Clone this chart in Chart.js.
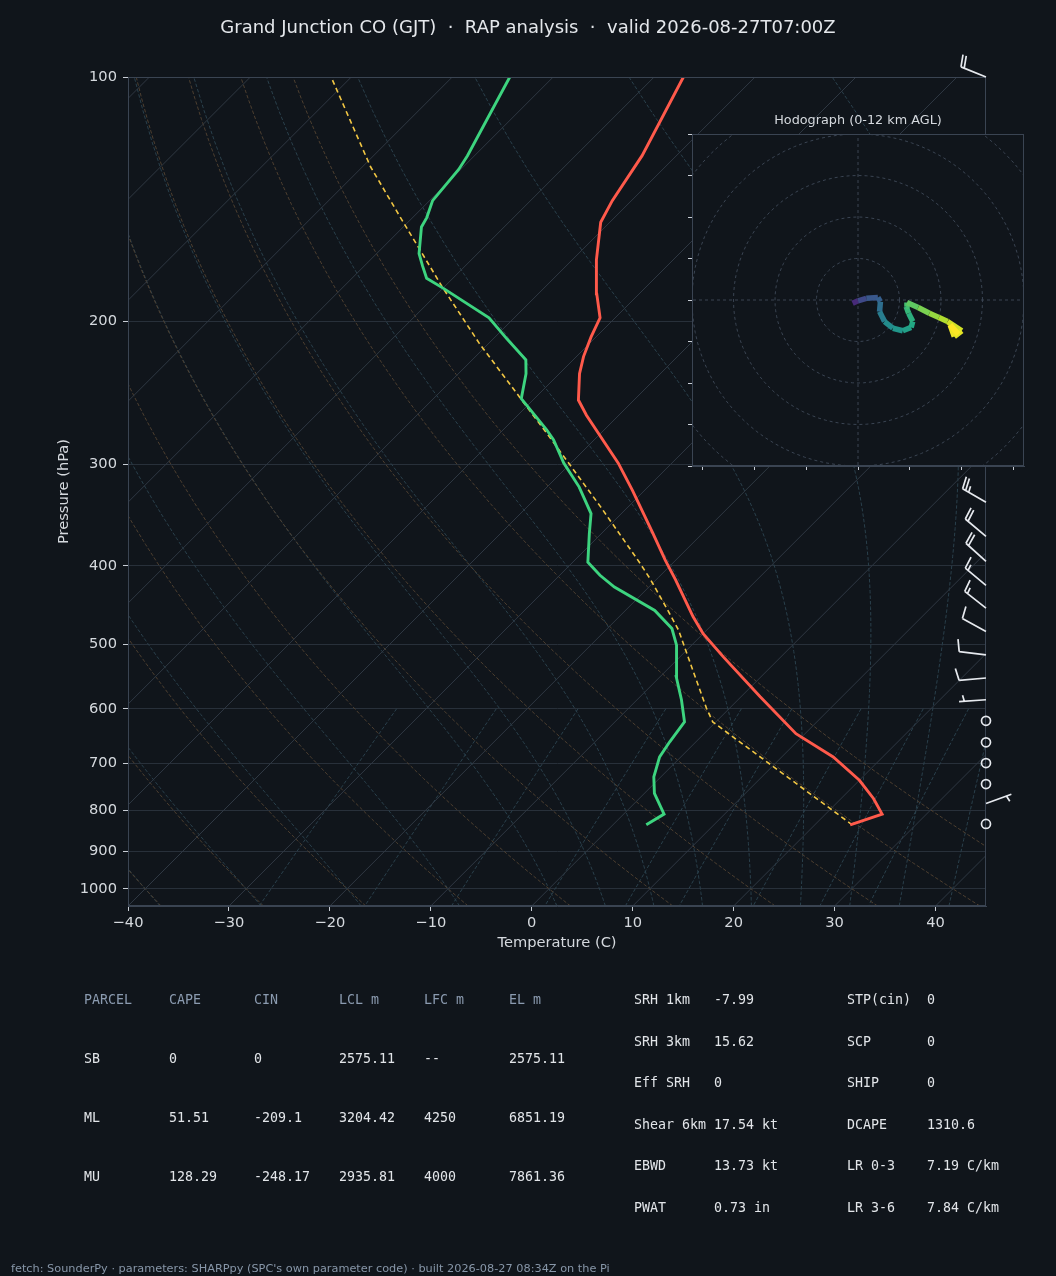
<!DOCTYPE html>
<html>
<head>
<meta charset="utf-8">
<title>Skew-T GJT</title>
<script src="https://cdn.jsdelivr.net/npm/chart.js@4.4.1/dist/chart.umd.min.js"></script>
<style>
  html, body { margin: 0; padding: 0; background: #10151b; }
  #page { position: relative; width: 1056px; height: 1276px; overflow: hidden; font-family: "DejaVu Sans", sans-serif; }
  canvas { position: absolute; }
  .txt { position: absolute; white-space: pre; line-height: 16px; }
  .mono { font-family: "DejaVu Sans Mono", monospace; font-size: 13.3px; }
</style>
</head>
<body>
<div id="page">
  <canvas id="skewt" width="1056" height="1276" style="left:0;top:0"></canvas>
  <canvas id="hodo" width="352" height="352" style="left:682px;top:124px"></canvas>
  <div class="txt" style="left:0;width:1056px;top:17px;line-height:20px;text-align:center;font-size:18px;color:#e4e7eb">Grand Junction CO (GJT)  ·  RAP analysis  ·  valid 2026-08-27T07:00Z</div>
  <div class="txt" style="left:692px;width:332px;top:112px;text-align:center;font-size:12.8px;color:#d5d9de">Hodograph (0-12 km AGL)</div>
  <div id="tables"></div>
  <div class="txt" style="left:11px;top:1261px;font-size:11.3px;color:#8796a8">fetch: SounderPy · parameters: SHARPpy (SPC's own parameter code) · built 2026-08-27 08:34Z on the Pi</div>
</div>
<script>
// sounding: pressure (hPa) and temperature (C)
const tempP = [834, 809, 774, 735, 688, 644, 580, 518, 485, 462, 416, 394, 365, 323, 299, 261, 250, 232, 221, 209, 198, 185, 168, 151, 142, 125, 100];
const tempT = [23.5, 25.6, 23.2, 20.0, 15.1, 9.1, 1.9, -5.7, -10.0, -12.7, -18.1, -21.0, -24.9, -31.2, -35.3, -43.2, -45.5, -48.0, -49.3, -50.5, -51.5, -54.2, -57.6, -60.9, -61.9, -63.4, -67.1];

const dewP = [834, 809, 763, 728, 688, 659, 623, 585, 548, 501, 478, 454, 425, 411, 396, 365, 345, 320, 299, 280, 272, 249, 232, 223, 210, 198, 182, 177, 171, 165, 153, 149, 142, 130, 125, 100];
const dewT = [3.3, 4.0, 1.0, -0.7, -2.1, -2.6, -3.1, -5.6, -8.4, -11.5, -13.6, -17.1, -23.4, -26.0, -28.5, -31.2, -33.0, -36.8, -40.7, -44.0, -45.7, -51.3, -53.3, -54.7, -58.7, -62.5, -70.0, -72.6, -74.2, -75.8, -78.2, -78.6, -79.7, -80.2, -80.7, -84.3];

const parcelP = [834, 623, 599, 538, 480, 454, 415, 396, 338, 279, 248, 213, 182, 149, 129, 100];
const parcelT = [23.7, -0.3, -2.3, -7.4, -12.8, -15.8, -20.7, -23.4, -32.8, -44.4, -51.6, -60.9, -70.0, -81.2, -89.2, -102.0];

// wind barbs: pressure (hPa), direction (deg), speed (kt)
const windP = [832, 785, 743, 700, 660, 621, 585, 550, 515, 482, 451, 423, 395, 368, 334, 100];
const windDir = [0, 70, 0, 0, 0, 0, 266, 265, 277, 299, 308, 310, 312, 310, 300, 292];
const windSpd = [0, 5, 0, 0, 0, 0, 5, 10, 10, 10, 15, 15, 20, 20, 25, 20];

// hodograph (kt) with its position along the viridis colour ramp
const hodoU = [-1.3, 0.0, 2.0, 4.8, 5.4, 5.2, 6.4, 8.4, 10.8, 12.8, 13.2, 12.2, 11.6, 11.8, 14.5, 17.2, 19.5, 21.6, 25.0, 23.2, 22.2, 24.2];
const hodoV = [-0.8, -0.2, 0.4, 0.6, -0.4, -2.8, -5.2, -6.8, -7.4, -6.6, -5.2, -3.2, -1.6, -0.6, -1.8, -3.2, -4.2, -5.2, -7.4, -8.8, -6.0, -8.2];
const hodoShade = [0.0, 0.12, 0.22, 0.27, 0.3, 0.36, 0.42, 0.48, 0.52, 0.56, 0.6, 0.63, 0.66, 0.7, 0.75, 0.8, 0.84, 0.88, 0.93, 0.96, 0.98, 1.0];

// axis ticks
const tempTicks = [-40, -30, -20, -10, 0, 10, 20, 30, 40];
const pressTicks = [100, 200, 300, 400, 500, 600, 700, 800, 900, 1000];
const hodoTicksX = [-37.5, -25, -12.5, 0, 12.5, 25, 37.5];
const hodoTicksY = [-40, -30, -20, -10, 0, 10, 20, 30, 40];
const hodoRings = [10, 20, 30, 40, 50, 60];

// background line families
const dryTheta = [-40, -30, -20, -10, 0, 10, 20, 30, 40, 50];
const moistT0 = [-40, -30, -20, -10, 0, 5, 10, 15, 20, 25, 30, 35, 40, 45];
const mixRatio = [0.0004, 0.001, 0.002, 0.004, 0.007, 0.01, 0.016, 0.024, 0.032];

// table
const parcelHead = ['PARCEL', 'CAPE', 'CIN', 'LCL m', 'LFC m', 'EL m'];
const parcelRows = [
  ['SB', '0', '0', '2575.11', '--', '2575.11'],
  ['ML', '51.51', '-209.1', '3204.42', '4250', '6851.19'],
  ['MU', '128.29', '-248.17', '2935.81', '4000', '7861.36']
];
const paramLeft = [['SRH 1km', '-7.99'], ['SRH 3km', '15.62'], ['Eff SRH', '0'], ['Shear 6km', '17.54 kt'], ['EBWD', '13.73 kt'], ['PWAT', '0.73 in']];
const paramRight = [['STP(cin)', '0'], ['SCP', '0'], ['SHIP', '0'], ['DCAPE', '1310.6'], ['LR 0-3', '7.19 C/km'], ['LR 3-6', '7.84 C/km']];

const BG = '#10151b';
const TXT = '#d5d9de';
const EDGE = '#3a4452';

// skew: isotherms lean 45 deg on screen
const K = 80.42;
const skewX = (t, p) => t + K * Math.log10(1050 / p);
const toXY = (P, T) => P.map((p, i) => ({ x: skewX(T[i], p), y: p }));
const logLevels = n => Array.from({ length: n }, (_, i) => 1050 * Math.pow(100 / 1050, i / (n - 1)));

// reference lines
function dryLine(th) {
  return logLevels(40).map(p => ({ x: skewX((th + 273.15) * Math.pow(p / 1000, 0.2857) - 273.15, p), y: p }));
}
function moistLine(t0) {
  const Rd = 287.04749, Cp = 1004.6662, Lv = 2.50084e6, eps = 0.622;
  const f = (p, T) => {
    const es = 6.112 * Math.exp(17.67 * (T - 273.15) / (T - 29.65));
    const rs = eps * es / (p - es);
    return (Rd * T + Lv * rs) / (Cp + Lv * Lv * rs * eps / (Rd * T * T)) / p;
  };
  const run = (pEnd, dp) => {
    const out = [];
    let p = 1000, T = t0 + 273.15;
    while ((dp < 0 && p > pEnd) || (dp > 0 && p < pEnd)) {
      const k1 = f(p, T), k2 = f(p + dp / 2, T + dp / 2 * k1), k3 = f(p + dp / 2, T + dp / 2 * k2), k4 = f(p + dp, T + dp * k3);
      T += dp / 6 * (k1 + 2 * k2 + 2 * k3 + k4);
      p += dp;
      out.push({ x: skewX(T - 273.15, p), y: p });
    }
    return out;
  };
  return run(1050, 10).reverse().concat([{ x: skewX(t0, 1000), y: 1000 }], run(100, -10));
}
function mixLine(w) {
  const pts = [];
  for (let i = 0; i <= 9; i++) {
    const p = 600 + i * 50;
    const e = p * w / (0.622 + w);
    const l = Math.log(e / 6.112);
    pts.push({ x: skewX(243.5 * l / (17.67 - l), p), y: p });
  }
  return pts;
}

const bgLine = (data, color, dash) => ({ data, borderColor: color, borderWidth: 1, borderDash: dash, showLine: true, pointRadius: 0, order: 2 });
const datasets = [
  { data: toXY(tempP, tempT), borderColor: '#ff5a4b', borderWidth: 2.9, showLine: true, pointRadius: 0, order: 0 },
  { data: toXY(dewP, dewT), borderColor: '#3dd47f', borderWidth: 2.9, showLine: true, pointRadius: 0, order: 0 },
  { data: toXY(parcelP, parcelT), borderColor: '#f2c744', borderWidth: 1.6, borderDash: [5, 3.5], showLine: true, pointRadius: 0, order: 0 }
];
for (let t = -120; t <= 40; t += 10) datasets.push(bgLine([{ x: skewX(t, 1050), y: 1050 }, { x: skewX(t, 100), y: 100 }], '#2f3843', []));
dryTheta.forEach(th => datasets.push(bgLine(dryLine(th), '#4d3f30', [3.5, 2])));
moistT0.forEach(t0 => datasets.push(bgLine(moistLine(t0), '#2a404c', [3.5, 2])));
mixRatio.forEach(w => datasets.push(bgLine(mixLine(w), '#2a404c', [3.5, 2])));

function drawBarb(ctx, x, y, spd, dir) {
  ctx.save();
  ctx.strokeStyle = '#e6e9ee';
  ctx.lineWidth = 1.7;
  ctx.lineJoin = 'round';
  if (spd < 2.5) {
    ctx.beginPath();
    ctx.arc(x, y, 4.5, 0, 2 * Math.PI);
    ctx.stroke();
    ctx.restore();
    return;
  }
  const L = 27, sp = 0.13 * L, h = 0.45 * L, w = 0.2 * L;
  const r = dir * Math.PI / 180;
  const dx = Math.sin(r), dy = -Math.cos(r);
  const nx = -dy, ny = dx;
  const at = o => [x + dx * o, y + dy * o];
  ctx.beginPath();
  ctx.moveTo(x, y);
  ctx.lineTo(...at(L));
  let s = Math.round(spd / 5) * 5;
  const flags = Math.floor(s / 50); s -= flags * 50;
  const full = Math.floor(s / 10); s -= full * 10;
  let off = L;
  for (let i = 0; i < flags; i++) {
    const [ax, ay] = at(off), [bx, by] = at(off - w);
    const [cx, cy] = at(off - w / 2);
    ctx.moveTo(ax, ay); ctx.lineTo(cx + nx * h, cy + ny * h); ctx.lineTo(bx, by);
    off -= w + sp;
  }
  for (let i = 0; i < full; i++) {
    const [ax, ay] = at(off), [bx, by] = at(off + w / 2);
    ctx.moveTo(ax, ay); ctx.lineTo(bx + nx * h, by + ny * h);
    off -= sp;
  }
  if (s >= 5) {
    if (off === L) off -= 1.5 * sp;
    const [ax, ay] = at(off), [bx, by] = at(off + w / 4);
    ctx.moveTo(ax, ay); ctx.lineTo(bx + nx * h / 2, by + ny * h / 2);
  }
  ctx.stroke();
  ctx.restore();
}

const frame = {
  id: 'frame',
  afterDatasetsDraw(chart) {
    const a = chart.chartArea, ctx = chart.ctx;
    ctx.save();
    ctx.strokeStyle = EDGE;
    ctx.lineWidth = 1;
    ctx.strokeRect(a.left + 0.5, a.top + 0.5, a.right - a.left - 1, a.bottom - a.top - 1);
    ctx.restore();
  }
};
const barbs = {
  id: 'barbs',
  afterDraw(chart) {
    const ys = chart.scales.y, x = chart.chartArea.right;
    windP.forEach((p, i) => drawBarb(chart.ctx, x, ys.getPixelForValue(p), windSpd[i], windDir[i]));
  }
};

const minus = v => (v < 0 ? '\u2212' + Math.abs(v) : String(v));

new Chart(document.getElementById('skewt'), {
  type: 'scatter',
  data: { datasets },
  options: {
    responsive: false,
    animation: false,
    events: [],
    layout: { padding: { left: 51, top: 77, right: 70, bottom: 320 } },
    plugins: { legend: { display: false }, tooltip: { enabled: false } },
    elements: { point: { radius: 0 }, line: { tension: 0 } },
    scales: {
      x: {
        type: 'linear', min: -40, max: 45,
        afterBuildTicks: s => { s.ticks = tempTicks.map(v => ({ value: v })); },
        afterFit: s => { s.height = 50; },
        grid: { drawOnChartArea: false, tickLength: 5, tickColor: '#c9ced6' },
        border: { color: EDGE },
        ticks: { color: TXT, font: { family: 'DejaVu Sans', size: 14.67 }, padding: 3, maxRotation: 0, callback: minus },
        title: { display: true, text: 'Temperature (C)', color: TXT, font: { family: 'DejaVu Sans', size: 14.67 }, padding: { top: 2, bottom: 4 } }
      },
      y: {
        type: 'logarithmic', min: 100, max: 1050, reverse: true,
        afterBuildTicks: s => { s.ticks = pressTicks.map(v => ({ value: v })); },
        afterFit: s => { s.width = 77; },
        grid: { color: '#28303a', tickLength: 5, tickColor: '#c9ced6' },
        border: { color: EDGE },
        ticks: { color: TXT, font: { family: 'DejaVu Sans', size: 14.67 }, padding: 6, callback: v => String(v) },
        title: { display: true, text: 'Pressure (hPa)', color: TXT, font: { family: 'DejaVu Sans', size: 14.67 }, padding: { top: 4, bottom: 4 } }
      }
    }
  },
  plugins: [frame, barbs]
});

// hodograph inset
const viridis = ['#440154', '#482475', '#414487', '#355f8d', '#2a788e', '#21918c', '#22a884', '#44bf70', '#7ad151', '#bddf26', '#fde725'];
function ramp(f) {
  const i = Math.min(9, Math.floor(f * 10)), t = f * 10 - i;
  const a = viridis[i], b = viridis[i + 1];
  const c = k => Math.round(parseInt(a.substr(k, 2), 16) * (1 - t) + parseInt(b.substr(k, 2), 16) * t);
  return `rgb(${c(1)},${c(3)},${c(5)})`;
}
const hodoColors = hodoShade.map(ramp);
const ring = r => Array.from({ length: 97 }, (_, i) => ({ x: r * Math.cos(i * Math.PI / 48), y: r * Math.sin(i * Math.PI / 48) }));
const hodoSets = [
  {
    data: hodoU.map((u, i) => ({ x: u, y: hodoV[i] })), showLine: true, pointRadius: 0, borderWidth: 5.5,
    borderCapStyle: 'butt', borderJoinStyle: 'round', borderColor: hodoColors[0],
    segment: { borderColor: c => hodoColors[c.p1DataIndex] }, order: 0
  },
  bgLine([{ x: -60, y: 0 }, { x: 60, y: 0 }], EDGE, [3, 3]),
  bgLine([{ x: 0, y: -60 }, { x: 0, y: 60 }], EDGE, [3, 3])
];
hodoRings.forEach(r => hodoSets.push(bgLine(ring(r), EDGE, [3, 3])));

new Chart(document.getElementById('hodo'), {
  type: 'scatter',
  data: { datasets: hodoSets },
  options: {
    responsive: false,
    animation: false,
    events: [],
    layout: { padding: { left: 0, top: 10, right: 10, bottom: 0 } },
    plugins: { legend: { display: false }, tooltip: { enabled: false } },
    scales: {
      x: {
        type: 'linear', min: -40, max: 40,
        afterBuildTicks: s => { s.ticks = hodoTicksX.map(v => ({ value: v })); },
        afterFit: s => { s.height = 10; },
        ticks: { display: false },
        grid: { drawOnChartArea: false, tickLength: 4, tickColor: '#c9ced6' },
        border: { color: EDGE }
      },
      y: {
        type: 'linear', min: -40, max: 40,
        afterBuildTicks: s => { s.ticks = hodoTicksY.map(v => ({ value: v })); },
        afterFit: s => { s.width = 10; },
        ticks: { display: false },
        grid: { drawOnChartArea: false, tickLength: 4, tickColor: '#c9ced6' },
        border: { color: EDGE }
      }
    }
  },
  plugins: [{
    id: 'hodoBg',
    beforeDatasetsDraw(chart) {
      const a = chart.chartArea, ctx = chart.ctx;
      ctx.save();
      ctx.fillStyle = BG;
      ctx.fillRect(a.left, a.top, a.right - a.left, a.bottom - a.top);
      ctx.restore();
    }
  }, frame]
});

// parameter tables
const tables = document.getElementById('tables');
function put(text, x, yc, color) {
  const d = document.createElement('div');
  d.className = 'txt mono';
  d.style.left = x + 'px';
  d.style.top = (yc - 8) + 'px';
  d.style.color = color;
  d.textContent = text;
  tables.appendChild(d);
}
const colX = [84, 169, 254, 339, 424, 509];
const rowY = [1000, 1059, 1118, 1177];
parcelHead.forEach((h, i) => put(h, colX[i], rowY[0], '#8b9bb0'));
parcelRows.forEach((r, j) => r.forEach((v, i) => put(v, colX[i], rowY[j + 1], '#e2e5e9')));
const parY = [1000, 1042, 1083, 1125, 1166, 1208];
paramLeft.forEach(([k, v], j) => { put(k, 634, parY[j], '#e2e5e9'); put(v, 714, parY[j], '#e2e5e9'); });
paramRight.forEach(([k, v], j) => { put(k, 847, parY[j], '#e2e5e9'); put(v, 927, parY[j], '#e2e5e9'); });
</script>
</body>
</html>
